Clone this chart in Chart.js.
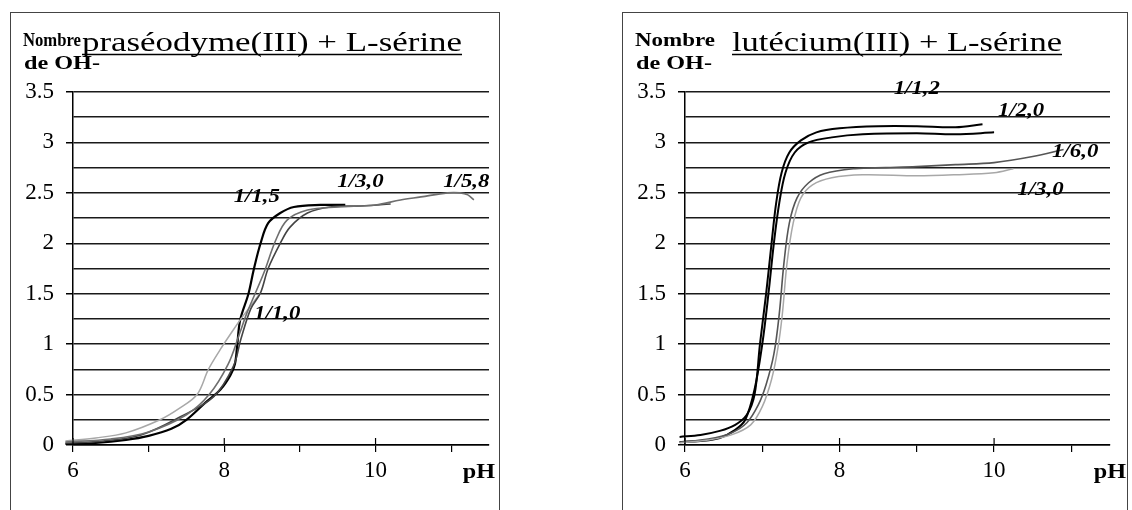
<!DOCTYPE html>
<html lang="fr">
<head>
<meta charset="UTF-8">
<title>Nombre de OH- en fonction du pH</title>
<script src="https://cdn.jsdelivr.net/npm/chart.js@4"></script>
<style>
    body {
        margin: 0;
        width: 1132px;
        height: 510px;
        overflow: hidden;
        position: relative;
        background: #fff;
    }
    .panel {
        position: absolute;
        top: 12px;
        height: 520px;
        border: 1px solid #444;
        box-sizing: border-box;
    }
    .wrap {
        position: absolute;
        top: 12px;
        height: 498px;
    }
</style>
</head>
<body>
<div class="panel" style="left:10px;width:490px"></div>
<div class="panel" style="left:622px;width:506px"></div>
<div class="wrap" style="left:10px;width:490px"><canvas id="chartPr"></canvas></div>
<div class="wrap" style="left:622px;width:506px"><canvas id="chartLu"></canvas></div>

<script>
// ---- praséodyme(III) + L-sérine ----
const prPh_1_0 = [5.9, 6.3, 6.7, 7.15, 7.4, 7.64, 7.79, 7.95, 8.1, 8.21, 8.35, 8.48];
const prN_1_0  = [0.04, 0.07, 0.12, 0.25, 0.36, 0.5, 0.75, 0.95, 1.12, 1.24, 1.38, 1.51];

const prPh_1_5 = [5.9, 6.3, 6.7, 7.0, 7.3, 7.5, 7.75, 7.95, 8.08, 8.14, 8.17, 8.21, 8.32, 8.39, 8.48, 8.58, 8.74, 8.92, 9.27, 9.6];
const prN_1_5  = [0.01, 0.02, 0.05, 0.09, 0.16, 0.25, 0.42, 0.55, 0.69, 0.8, 0.98, 1.24, 1.5, 1.74, 2.0, 2.2, 2.3, 2.36, 2.38, 2.38];

const prPh_3_0 = [5.9, 6.4, 6.9, 7.42, 7.86, 8.12, 8.22, 8.35, 8.48, 8.58, 8.74, 8.87, 9.1, 9.4, 9.8, 10.2];
const prN_3_0  = [0.02, 0.04, 0.1, 0.28, 0.48, 0.78, 1.05, 1.35, 1.51, 1.75, 2.0, 2.16, 2.3, 2.36, 2.37, 2.39];

const prPh_5_8 = [5.9, 6.5, 7.0, 7.5, 7.8, 8.05, 8.2, 8.3, 8.52, 8.68, 8.83, 9.1, 9.5, 10.0, 10.33, 10.6, 10.95, 11.12, 11.22, 11.3];
const prN_5_8  = [0.03, 0.06, 0.13, 0.3, 0.5, 0.8, 1.1, 1.31, 1.7, 2.03, 2.23, 2.33, 2.36, 2.38, 2.43, 2.46, 2.5, 2.5, 2.48, 2.43];

const prNoteText = ["1/1,5", "1/3,0", "1/5,8", "1/1,0"];
const prNotePh   = [8.43, 9.8, 11.2, 8.7];
const prNoteN    = [2.48, 2.63, 2.63, 1.32];

// ---- lutécium(III) + L-sérine ----
const luPh_1_2 = [5.93, 6.2, 6.45, 6.65, 6.8, 6.9, 6.97, 7.05, 7.12, 7.18, 7.25, 7.35, 7.5, 7.7, 8.0, 8.5, 9.0, 9.5, 9.85];
const luN_1_2  = [0.08, 0.1, 0.14, 0.2, 0.3, 0.5, 1.0, 1.5, 2.0, 2.4, 2.7, 2.9, 3.02, 3.1, 3.14, 3.16, 3.16, 3.15, 3.18];

const luPh_2_0 = [5.93, 6.2, 6.45, 6.65, 6.78, 6.9, 7.0, 7.08, 7.15, 7.22, 7.3, 7.42, 7.6, 7.9, 8.3, 9.0, 9.5, 10.0];
const luN_2_0  = [0.03, 0.04, 0.07, 0.15, 0.25, 0.55, 1.0, 1.5, 2.0, 2.4, 2.7, 2.9, 3.0, 3.05, 3.08, 3.09, 3.08, 3.1];

const luPh_6_0 = [5.93, 6.3, 6.6, 6.8, 6.95, 7.05, 7.15, 7.22, 7.28, 7.35, 7.45, 7.6, 7.8, 8.2, 8.6, 9.0, 9.5, 10.0, 10.5, 10.9];
const luN_6_0  = [0.03, 0.06, 0.12, 0.22, 0.4, 0.6, 0.9, 1.3, 1.8, 2.2, 2.45, 2.6, 2.69, 2.74, 2.75, 2.76, 2.78, 2.8, 2.86, 2.93];

const luPh_3_0 = [5.93, 6.3, 6.6, 6.85, 7.0, 7.12, 7.2, 7.26, 7.32, 7.4, 7.5, 7.65, 7.9, 8.3, 9.0, 9.5, 10.0, 10.25];
const luN_3_0  = [0.02, 0.05, 0.1, 0.2, 0.38, 0.65, 0.95, 1.3, 1.8, 2.2, 2.45, 2.58, 2.65, 2.68, 2.67, 2.68, 2.7, 2.74];

const luNoteText = ["1/1,2", "1/2,0", "1/6,0", "1/3,0"];
const luNotePh   = [9.0, 10.35, 11.05, 10.6];
const luNoteN    = [3.55, 3.33, 2.92, 2.55];

const xTicks = [6, 8, 10];

function pts(xs, ys) {
    return xs.map((x, i) => ({ x: x, y: ys[i] }));
}

// text stretched horizontally, like the scanned figure
function wideText(ctx, txt, x, y, font, sx, align) {
    ctx.save();
    ctx.font = font;
    const w = ctx.measureText(txt).width * sx;
    const x0 = align === "center" ? x - w / 2 : (align === "right" ? x - w : x);
    ctx.translate(x0, y);
    ctx.scale(sx, 1);
    ctx.textAlign = "left";
    ctx.textBaseline = "alphabetic";
    ctx.fillStyle = "#000";
    ctx.fillText(txt, 0, 0);
    ctx.restore();
    return { x0: x0, w: w };
}

// same, but squeezed/stretched to a given width
function fitText(ctx, txt, x, y, font, width) {
    ctx.save();
    ctx.font = font;
    const sx = width / ctx.measureText(txt).width;
    ctx.restore();
    return wideText(ctx, txt, x, y, font, sx, "left");
}

const notesPlugin = {
    id: "notes",
    afterDraw(chart, args, opts) {
        const ctx = chart.ctx;
        const xs = chart.scales.x, ys = chart.scales.y;
        const area = chart.chartArea;

        // curve labels
        opts.text.forEach((t, i) => {
            wideText(ctx, t, xs.getPixelForValue(opts.ph[i]), ys.getPixelForValue(opts.n[i]) + 7,
                "italic bold 19px 'Liberation Serif'", 1.2, "center");
        });

        // title underlined
        const r = fitText(ctx, opts.title, opts.titleX, 39, "27px 'Liberation Serif'", opts.titleW);
        ctx.save();
        ctx.strokeStyle = "#000";
        ctx.lineWidth = 1.5;
        ctx.beginPath();
        ctx.moveTo(r.x0, 42.5);
        ctx.lineTo(r.x0 + r.w, 42.5);
        ctx.stroke();
        ctx.restore();

        // axis titles
        fitText(ctx, "Nombre", 13, 34, "bold 18px 'Liberation Serif'", opts.nombreW);
        fitText(ctx, "de OH-", 14, 57, "bold 18px 'Liberation Serif'", 76);
        wideText(ctx, "pH", area.right + opts.phDx, 466, "bold 22px 'Liberation Serif'", 1.1, "center");

        // small upward tick marks on x axis
        ctx.save();
        ctx.strokeStyle = "#000";
        ctx.lineWidth = 1.2;
        xTicks.forEach(v => {
            const px = xs.getPixelForValue(v);
            ctx.beginPath();
            ctx.moveTo(px, area.bottom);
            ctx.lineTo(px, area.bottom - 7);
            ctx.stroke();
        });
        ctx.restore();
    }
};

function makeChart(id, sets, notes, padRight) {
    return new Chart(document.getElementById(id), {
        type: "scatter",
        data: {
            datasets: sets.map(s => ({
                data: s.data,
                showLine: true,
                borderColor: s.color,
                borderWidth: s.width,
                pointRadius: 0,
                tension: 0.35,
                clip: false
            }))
        },
        options: {
            responsive: true,
            maintainAspectRatio: false,
            animation: false,
            layout: { padding: { top: 80, right: padRight, left: 0, bottom: 0 } },
            plugins: {
                legend: { display: false },
                tooltip: { enabled: false },
                notes: notes
            },
            scales: {
                x: {
                    type: "linear",
                    min: 6,
                    max: 11.5,
                    afterFit: s => { s.height = 65; },
                    border: { display: true, color: "#000", width: 1.5 },
                    grid: { drawOnChartArea: false, drawTicks: true, tickLength: 7, color: "#000", lineWidth: 1.2 },
                    ticks: {
                        stepSize: 1,
                        includeBounds: false,
                        maxRotation: 0,
                        autoSkip: false,
                        padding: 5,
                        color: "#000",
                        font: { family: "'Liberation Serif'", size: 23 },
                        callback: v => (xTicks.includes(v) ? String(v) : "")
                    }
                },
                y: {
                    type: "linear",
                    min: 0,
                    max: 3.5,
                    afterFit: s => { s.width = 63; },
                    border: { display: true, color: "#000", width: 1.5 },
                    grid: {
                        color: "#1a1a1a",
                        lineWidth: 1.5,
                        tickLength: 7,
                        tickColor: c => (c.tick && c.tick.value % 0.5 === 0 ? "#000" : "rgba(0,0,0,0)")
                    },
                    ticks: {
                        stepSize: 0.25,
                        autoSkip: false,
                        padding: 12,
                        color: "#000",
                        font: { family: "'Liberation Serif'", size: 23 },
                        callback: v => (v % 0.5 === 0 ? String(v) : "")
                    }
                }
            }
        },
        plugins: [notesPlugin]
    });
}

makeChart("chartPr", [
    { data: pts(prPh_5_8, prN_5_8), color: "#6e6e6e", width: 1.6 },
    { data: pts(prPh_3_0, prN_3_0), color: "#444", width: 1.6 },
    { data: pts(prPh_1_0, prN_1_0), color: "#a8a8a8", width: 1.5 },
    { data: pts(prPh_1_5, prN_1_5), color: "#000", width: 2.2 }
], {
    text: prNoteText, ph: prNotePh, n: prNoteN,
    title: "praséodyme(III) + L-sérine", titleX: 72, titleW: 380, nombreW: 58, phDx: -10
}, 11);

makeChart("chartLu", [
    { data: pts(luPh_3_0, luN_3_0), color: "#a8a8a8", width: 1.5 },
    { data: pts(luPh_6_0, luN_6_0), color: "#555", width: 1.6 },
    { data: pts(luPh_2_0, luN_2_0), color: "#000", width: 2 },
    { data: pts(luPh_1_2, luN_1_2), color: "#000", width: 2 }
], {
    text: luNoteText, ph: luNotePh, n: luNoteN,
    title: "lutécium(III) + L-sérine", titleX: 110, titleW: 330, nombreW: 80, phDx: 0
}, 18);
</script>
</body>
</html>
